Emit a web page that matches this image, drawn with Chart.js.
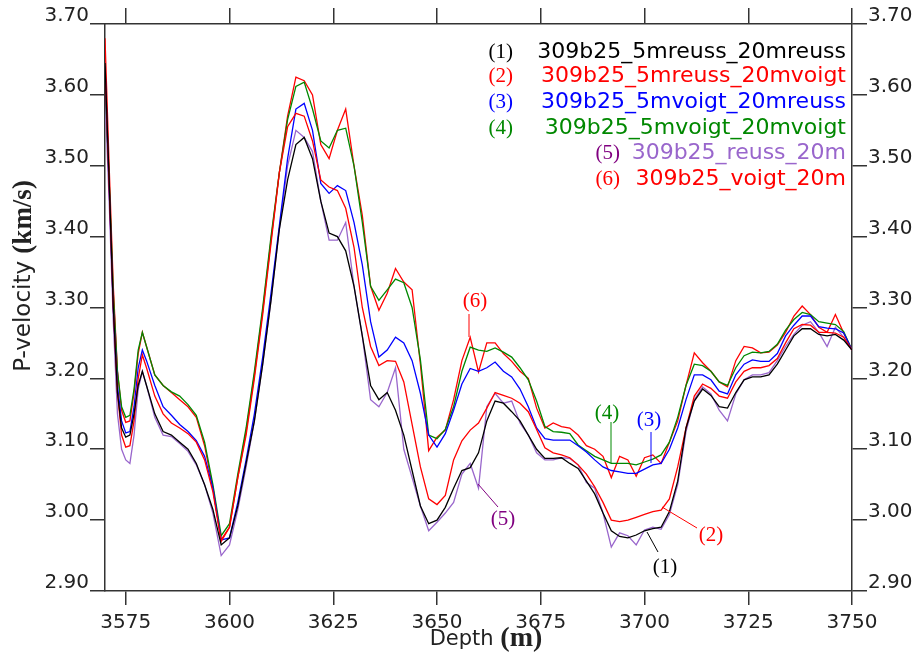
<!DOCTYPE html>
<html>
<head>
<meta charset="utf-8">
<script src="https://cdn.jsdelivr.net/npm/chart.js@4.4.1/dist/chart.umd.min.js"></script>
<style>
  body { margin: 0; background: #fff; }
  canvas { display: block; }
</style>
</head>
<body>
<canvas id="myChart" width="920" height="655"></canvas>
<script>
// depth samples (m)
var depths = [3570, 3571, 3572, 3573, 3574, 3575, 3576, 3577, 3578, 3579, 3580,
  3582, 3584, 3586, 3588, 3590, 3592, 3594, 3596, 3598, 3600,
  3602, 3604, 3606, 3608, 3610, 3612, 3614, 3616, 3618, 3620,
  3622, 3624, 3626, 3628, 3630, 3632, 3634, 3636, 3638, 3640,
  3642, 3644, 3646, 3648, 3650, 3652, 3654, 3656, 3658, 3660,
  3662, 3664, 3666, 3668, 3670, 3672, 3674, 3676, 3678, 3680,
  3682, 3684, 3686, 3688, 3690, 3692, 3694, 3696, 3698, 3700,
  3702, 3704, 3706, 3708, 3710, 3712, 3714, 3716, 3718, 3720,
  3722, 3724, 3726, 3728, 3730, 3732, 3734, 3736, 3738, 3740,
  3742, 3744, 3746, 3748, 3750];

// (1) 309b25_5mreuss_20mreuss
var reussReuss = [3.645, 3.48, 3.30, 3.18, 3.13, 3.117, 3.12, 3.15, 3.19, 3.21, 3.19,
  3.15, 3.125, 3.12, 3.11, 3.10, 3.08, 3.05, 3.015, 2.965, 2.975,
  3.02, 3.08, 3.14, 3.22, 3.31, 3.41, 3.48, 3.53, 3.54, 3.51,
  3.45, 3.405, 3.40, 3.38, 3.33, 3.26, 3.19, 3.17, 3.18, 3.155,
  3.12, 3.07, 3.02, 2.995, 3.0, 3.018, 3.045, 3.07, 3.074, 3.095,
  3.14, 3.168, 3.165, 3.153, 3.14, 3.12, 3.10, 3.087, 3.087, 3.088,
  3.08, 3.073, 3.055, 3.037, 3.01, 2.985, 2.977, 2.975, 2.979, 2.985,
  2.988, 2.99, 3.012, 3.055, 3.13, 3.168, 3.185, 3.176, 3.16, 3.158,
  3.18, 3.198, 3.202, 3.202, 3.205, 3.22, 3.24, 3.26, 3.27, 3.27,
  3.262, 3.26, 3.262, 3.254, 3.24];

// (2) 309b25_5mreuss_20mvoigt
var reussVoigt = [3.64, 3.47, 3.30, 3.18, 3.12, 3.103, 3.105, 3.14, 3.20, 3.233, 3.215,
  3.175, 3.15, 3.137, 3.13, 3.122, 3.11, 3.085, 3.04, 2.97, 2.99,
  3.06, 3.12, 3.20, 3.29, 3.39, 3.49, 3.555, 3.574, 3.57, 3.535,
  3.48, 3.47, 3.465, 3.44, 3.385, 3.30, 3.245, 3.218, 3.225, 3.224,
  3.195, 3.135, 3.075, 3.03, 3.022, 3.035, 3.085, 3.112, 3.127, 3.137,
  3.158, 3.18, 3.176, 3.172, 3.165, 3.153, 3.128, 3.102, 3.095, 3.092,
  3.088, 3.078, 3.065, 3.047, 3.025, 3.0, 2.998, 3.0, 3.004, 3.008,
  3.012, 3.014, 3.03, 3.075, 3.13, 3.175, 3.192, 3.186, 3.175, 3.172,
  3.195, 3.21, 3.215, 3.215, 3.218, 3.228, 3.25, 3.27, 3.276, 3.275,
  3.265, 3.265, 3.264, 3.258, 3.24];

// (3) 309b25_5mvoigt_20mreuss
var voigtReuss = [3.64, 3.47, 3.30, 3.19, 3.14, 3.123, 3.125, 3.16, 3.215, 3.24, 3.225,
  3.19, 3.16, 3.148, 3.135, 3.125, 3.112, 3.09, 3.045, 2.972, 2.975,
  3.025, 3.085, 3.15, 3.23, 3.32, 3.415, 3.51, 3.58, 3.588, 3.55,
  3.475, 3.461, 3.472, 3.465, 3.42, 3.36, 3.28, 3.23, 3.24, 3.258,
  3.25, 3.225, 3.179, 3.12, 3.103, 3.122, 3.155, 3.192, 3.214, 3.21,
  3.215, 3.223, 3.21, 3.202, 3.185, 3.16, 3.13, 3.115, 3.113, 3.113,
  3.113, 3.105, 3.096, 3.085, 3.075, 3.07, 3.068, 3.066, 3.066, 3.072,
  3.078, 3.08, 3.10, 3.13, 3.17, 3.205, 3.205, 3.198, 3.182, 3.178,
  3.205, 3.22, 3.226, 3.224, 3.224, 3.235, 3.26, 3.275, 3.288, 3.288,
  3.273, 3.271, 3.27, 3.264, 3.24];

// (4) 309b25_5mvoigt_20mvoigt
var voigtVoigt = [3.62, 3.48, 3.32, 3.21, 3.16, 3.145, 3.148, 3.185, 3.24, 3.265, 3.245,
  3.205, 3.19, 3.181, 3.175, 3.163, 3.148, 3.11, 3.05, 2.978, 2.995,
  3.065, 3.13, 3.21, 3.30, 3.40, 3.49, 3.565, 3.612, 3.618, 3.58,
  3.535, 3.525, 3.55, 3.553, 3.50, 3.42, 3.33, 3.31, 3.325, 3.34,
  3.335, 3.30, 3.226, 3.12, 3.115, 3.128, 3.16, 3.21, 3.244, 3.24,
  3.238, 3.243, 3.237, 3.23, 3.215, 3.198, 3.168, 3.132, 3.125, 3.124,
  3.122, 3.106, 3.098, 3.09, 3.085, 3.08, 3.08, 3.08, 3.078, 3.082,
  3.086, 3.092, 3.11, 3.145, 3.19, 3.22, 3.218, 3.21, 3.195, 3.19,
  3.215, 3.232, 3.237, 3.236, 3.238, 3.248, 3.268, 3.283, 3.293, 3.29,
  3.28, 3.278, 3.276, 3.266, 3.24];

// (5) 309b25_reuss_20m
var reuss20 = [3.60, 3.45, 3.28, 3.15, 3.10, 3.085, 3.08, 3.12, 3.185, 3.21, 3.19,
  3.145, 3.12, 3.118, 3.108, 3.097, 3.078, 3.05, 3.01, 2.95, 2.965,
  3.015, 3.075, 3.14, 3.22, 3.31, 3.41, 3.50, 3.55, 3.54, 3.52,
  3.45, 3.395, 3.395, 3.42, 3.33, 3.26, 3.17, 3.16, 3.18, 3.215,
  3.10, 3.06, 3.02, 2.985, 2.997, 3.01, 3.025, 3.065, 3.08, 3.045,
  3.16, 3.179, 3.165, 3.168, 3.137, 3.12, 3.095, 3.085, 3.085, 3.088,
  3.087, 3.078, 3.053, 3.045, 3.01, 2.962, 2.982, 2.978, 2.965, 2.986,
  2.99, 2.987, 3.008, 3.05, 3.125, 3.17, 3.188, 3.178, 3.155, 3.14,
  3.178, 3.198, 3.205, 3.205, 3.208, 3.225, 3.245, 3.262, 3.275, 3.28,
  3.265, 3.245, 3.272, 3.258, 3.24];

// (6) 309b25_voigt_20m
var voigt20 = [3.68, 3.50, 3.33, 3.21, 3.155, 3.138, 3.14, 3.18, 3.235, 3.265, 3.245,
  3.205, 3.19, 3.18, 3.17, 3.16, 3.145, 3.105, 3.045, 2.972, 2.99,
  3.06, 3.125, 3.205, 3.295, 3.395, 3.49, 3.57, 3.625, 3.62, 3.60,
  3.53, 3.51, 3.55, 3.58, 3.50, 3.43, 3.33, 3.296, 3.32, 3.355,
  3.336, 3.325, 3.22, 3.098, 3.117, 3.127, 3.17, 3.225, 3.258, 3.209,
  3.25, 3.25, 3.235, 3.224, 3.21, 3.20, 3.158, 3.13, 3.137, 3.132,
  3.13, 3.12, 3.105, 3.10, 3.09, 3.06, 3.09, 3.085, 3.062, 3.088,
  3.092, 3.08, 3.11, 3.14, 3.19, 3.236, 3.222, 3.21, 3.195, 3.188,
  3.225, 3.245, 3.243, 3.236, 3.237, 3.247, 3.265, 3.288, 3.302, 3.29,
  3.272, 3.265, 3.29, 3.264, 3.24];

var seriesNames = ["309b25_5mreuss_20mreuss", "309b25_5mreuss_20mvoigt",
  "309b25_5mvoigt_20mreuss", "309b25_5mvoigt_20mvoigt",
  "309b25_reuss_20m", "309b25_voigt_20m"];
var seriesValues = [reussReuss, reussVoigt, voigtReuss, voigtVoigt, reuss20, voigt20];
var seriesColors = ["#000000", "#ff0000", "#0000ff", "#008800", "#9966cc", "#ff0000"];
var markerColors = ["#000000", "#ff0000", "#0000ff", "#008800", "#800080", "#ff0000"];

var xTicks = [3575, 3600, 3625, 3650, 3675, 3700, 3725, 3750];
var yTicks = [2.9, 3.0, 3.1, 3.2, 3.3, 3.4, 3.5, 3.6, 3.7];

var axisColor = "#333333";
var tickFont = { family: "DejaVu Sans", size: 20 };

function setTicks(list) {
  return function (scale) {
    scale.ticks = list.map(function (v) { return { value: v }; });
  };
}

// legend, axis titles and the (n) call-outs
var decorations = {
  id: "decorations",
  afterDraw: function (chart) {
    var c = chart.ctx;
    c.save();
    c.textBaseline = "alphabetic";

    // legend rows at top right
    var rowY = [58, 82, 108, 134, 159, 185];
    var markerRight = [513, 513, 513, 513, 620, 620];
    for (var i = 0; i < seriesNames.length; i++) {
      c.font = "22px DejaVu Sans";
      c.fillStyle = seriesColors[i];
      c.textAlign = "right";
      c.fillText(seriesNames[i], 846, rowY[i]);
      c.font = "21px Liberation Serif";
      c.fillStyle = markerColors[i];
      c.fillText("(" + (i + 1) + ")", markerRight[i], rowY[i]);
    }

    // call-outs: label position + pointer line
    var callouts = [
      { n: 1, tx: 665, ty: 573, line: [658, 552, 647, 532] },
      { n: 2, tx: 711, ty: 541, line: [697, 528, 662, 507] },
      { n: 3, tx: 649, ty: 426, line: [651, 432, 651, 463] },
      { n: 4, tx: 607, ty: 419, line: [611, 422, 611, 463] },
      { n: 5, tx: 503, ty: 525, line: [498, 507, 478, 484] },
      { n: 6, tx: 475, ty: 307, line: [469, 314, 469, 337] }
    ];
    callouts.forEach(function (o) {
      var col = markerColors[o.n - 1];
      c.strokeStyle = col;
      c.lineWidth = 1;
      c.beginPath();
      c.moveTo(o.line[0], o.line[1]);
      c.lineTo(o.line[2], o.line[3]);
      c.stroke();
      c.font = "21px Liberation Serif";
      c.fillStyle = col;
      c.textAlign = "center";
      c.fillText("(" + o.n + ")", o.tx, o.ty);
    });

    // x title: "Depth (m)"
    c.fillStyle = "#222";
    c.textAlign = "left";
    c.font = "21px DejaVu Sans";
    var w1 = c.measureText("Depth ").width;
    c.font = "bold 28px Liberation Serif";
    var w2 = c.measureText("(m)").width;
    var x0 = 486 - (w1 + w2) / 2;
    c.font = "21px DejaVu Sans";
    c.fillText("Depth ", x0, 645);
    c.font = "bold 28px Liberation Serif";
    c.fillText("(m)", x0 + w1, 646);

    // y title: "P-velocity (km/s)"
    c.translate(30, 276);
    c.rotate(-Math.PI / 2);
    c.font = "23px DejaVu Sans";
    var v1 = c.measureText("P-velocity ").width;
    c.font = "bold 27px Liberation Serif";
    var v2 = c.measureText("(km/s)").width;
    var y0 = -(v1 + v2) / 2;
    c.font = "23px DejaVu Sans";
    c.fillText("P-velocity ", y0, 0);
    c.font = "bold 27px Liberation Serif";
    c.fillText("(km/s)", y0 + v1, 1);
    c.restore();
  }
};

function yAxis(pos, width) {
  return {
    type: "linear",
    position: pos,
    min: 2.9,
    max: 3.7,
    afterBuildTicks: setTicks(yTicks),
    afterFit: function (s) { s.width = width; },
    grid: { drawOnChartArea: false, drawTicks: true, tickLength: 15, color: axisColor, lineWidth: 1.5 },
    border: { display: true, color: axisColor, width: 1.5 },
    ticks: {
      font: tickFont,
      color: "#222",
      padding: 1,
      labelOffset: -8,
      callback: function (v) { return Number(v).toFixed(2); }
    }
  };
}

var ctx = document.getElementById("myChart").getContext("2d");
// eslint-disable-next-line no-undef
var myChart = new Chart(ctx, {
  type: "line",
  data: {
    datasets: seriesValues.map(function (vals, i) {
      return {
        label: seriesNames[i],
        data: depths.map(function (d, k) { return { x: d, y: vals[k] }; }),
        borderColor: seriesColors[i],
        borderWidth: 1.3,
        pointRadius: 0,
        tension: 0,
        fill: false,
        xAxisID: "x",
        yAxisID: "y"
      };
    })
  },
  options: {
    responsive: false,
    animation: false,
    layout: { padding: 0 },
    plugins: {
      legend: { display: false },
      tooltip: { enabled: false }
    },
    scales: {
      x: {
        type: "linear",
        position: "bottom",
        min: 3570,
        max: 3750,
        afterBuildTicks: setTicks(xTicks),
        afterFit: function (s) { s.height = 64; },
        grid: { drawOnChartArea: false, drawTicks: true, tickLength: 14, color: axisColor, lineWidth: 1.5 },
        border: { display: true, color: axisColor, width: 1.5 },
        ticks: {
          font: tickFont,
          color: "#222",
          padding: 6,
          maxRotation: 0,
          callback: function (v) { return String(v); }
        }
      },
      x2: {
        type: "linear",
        position: "top",
        min: 3570,
        max: 3750,
        afterBuildTicks: setTicks(xTicks),
        afterFit: function (s) { s.height = 24; },
        grid: { drawOnChartArea: false, drawTicks: true, tickLength: 16, color: axisColor, lineWidth: 1.5 },
        border: { display: true, color: axisColor, width: 1.5 },
        ticks: { display: false }
      },
      y: yAxis("left", 105),
      y2: yAxis("right", 68)
    }
  },
  plugins: [decorations]
});
</script>
</body>
</html>
